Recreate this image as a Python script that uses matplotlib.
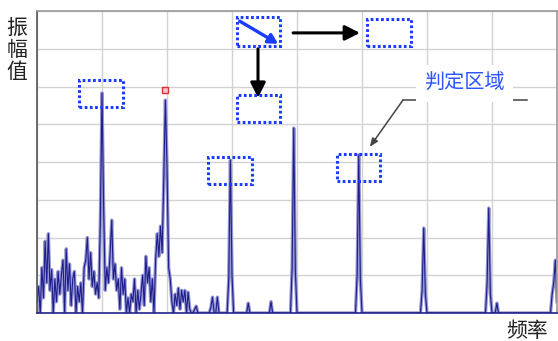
import matplotlib
matplotlib.use("Agg")
import matplotlib.pyplot as plt
import numpy as np
from matplotlib.patches import Rectangle

plt.rcParams["font.family"] = ["Noto Sans CJK SC", "DejaVu Sans"]

# spectrum: uniform frequency bins (grid units), amplitude in grid units
BIN = 0.025
N_BINS = 321
# low-frequency noise band incl. 1st and 2nd harmonic (bins 0..100)
noise_amp = [
    0.3, 0.7, 0.0, 1.2, 0.4, 1.9, 0.8, 2.1, 0.6, 1.15,
    0.0, 0.9, 0.3, 1.1, 0.5, 1.0, 1.4, 0.0, 1.7, 0.6,
    1.3, 0.2, 0.9, 1.1, 0.0, 0.7, 0.3, 0.8, 0.0, 1.2,
    1.4, 2.0, 0.9, 1.6, 0.7, 1.1, 0.5, 0.8, 0.4, 2.5,
    5.83, 2.8, 0.6, 1.2, 0.8, 1.6, 2.46, 0.9, 1.3, 0.6,
    0.9, 0.1, 1.2, 0.5, 0.9, 0.0, 0.4, 0.0, 0.5, 0.3,
    0.9, 0.0, 0.6, 0.1, 0.5, 1.0, 0.2, 1.5, 0.8, 1.2,
    0.3, 0.9, 0.0, 1.4, 2.1, 1.5, 2.3, 1.6, 3.5, 5.64,
    3.9, 1.2, 0.9, 0.3, 0.0, 0.5, 0.2, 0.66, 0.1, 0.6,
    0.3, 0.6, 0.0, 0.55, 0.1, 0.0, 0.0, 0.1, 0.18, 0.0,
    0.0,
]
# sparse harmonics / small bumps above the noise band: bin -> amplitude
sparse_amp = {
    107: 0.15, 108: 0.42, 111: 0.42,
    118: 0.9, 119: 4.05, 120: 1.0,
    130: 0.26, 144: 0.3,
    157: 1.2, 158: 4.9, 159: 1.1,
    197: 1.0, 198: 4.19, 199: 0.9,
    237: 0.6, 238: 2.25, 239: 0.5,
    277: 0.8, 278: 2.78, 279: 0.5, 283: 0.26,
    317: 0.5, 318: 0.8, 319: 1.4, 320: 0.3,
}
marker_bin, marker_amp = 79, 5.9

# judgement windows (x0, y0, x1, y1) in grid units
boxes = [
    (3.08, 7.08, 3.74, 7.83),
    (5.08, 7.07, 5.75, 7.79),
    (3.08, 5.06, 3.74, 5.78),
    (0.65, 5.46, 1.32, 6.17),
    (2.63, 3.42, 3.31, 4.13),
    (4.62, 3.50, 5.28, 4.21),
]

freq = np.arange(N_BINS) * BIN
amp = np.zeros(N_BINS)
amp[:len(noise_amp)] = noise_amp
for b, v in sparse_amp.items():
    amp[b] = v

W, H = 558, 341
fig = plt.figure(figsize=(W / 100, H / 100), dpi=100)
ax = fig.add_axes([37 / W, (H - 313) / H, 520 / W, 302 / H])
ax.set_xlim(0, 8)
ax.set_ylim(0, 8)
ax.set_xticks(range(9))
ax.set_yticks(range(9))
ax.tick_params(length=0, labelbottom=False, labelleft=False)
ax.grid(color="#d2d2d2", lw=1.0)
ax.set_axisbelow(True)
for s in ("top", "right"):
    ax.spines[s].set_color("#9a9a9a")
ax.spines["left"].set_color("#555555")
ax.spines["bottom"].set_color("#22228a")
for s in ax.spines.values():
    s.set_linewidth(1.2)

ax.plot(freq, amp, color="#9494d2", lw=2.4, clip_on=True)
ax.plot(freq, amp, color="#1e1e8a", lw=0.8, clip_on=True)
ax.plot(freq[marker_bin], marker_amp, "s", ms=4.5, mfc="#f4c8c8", mec="#e03030", mew=1.0)

for x0, y0, x1, y1 in boxes:
    ax.add_patch(Rectangle((x0, y0), x1 - x0, y1 - y0, fill=False, ec="#1a3cff",
                           lw=2.2, ls=(0, (0.9, 0.8)), zorder=5))

arrow_k = dict(arrowstyle="-|>,head_length=0.9,head_width=0.45", color="black",
               lw=2.2, shrinkA=0, shrinkB=0)
ax.annotate("", xy=(4.97, 7.42), xytext=(3.94, 7.42), arrowprops=arrow_k)
ax.annotate("", xy=(3.40, 5.70), xytext=(3.40, 7.00), arrowprops=arrow_k)
ax.annotate("", xy=(3.71, 7.13), xytext=(3.12, 7.73),
            arrowprops=dict(arrowstyle="-|>,head_length=0.55,head_width=0.3",
                            color="#1a3cff", lw=2.4, shrinkA=0, shrinkB=0))

ax.plot([7.54, 5.63], [5.64, 5.64], color="#444444", lw=1.1)
ax.annotate("", xy=(5.12, 4.40), xytext=(5.63, 5.64),
            arrowprops=dict(arrowstyle="-|>,head_length=0.5,head_width=0.2",
                            color="#444444", lw=1.1, shrinkA=0, shrinkB=0))
ax.text(6.58, 6.09, "判定区域", ha="center", va="center", fontsize=14.5,
        color="#2a55ff", fontweight="medium", zorder=6,
        bbox=dict(boxstyle="square,pad=0.4", fc="white", ec="none"))

fig.text(17 / W, 1 - 50 / H, "振\n幅\n值", ha="center", va="center",
         fontsize=15, color="#222222", linespacing=1.0, fontweight="medium")
fig.text(527 / W, 1 - 331 / H, "频率", ha="center", va="center",
         fontsize=15, color="#222222", fontweight="medium")

fig.savefig("out.png", dpi=100)
